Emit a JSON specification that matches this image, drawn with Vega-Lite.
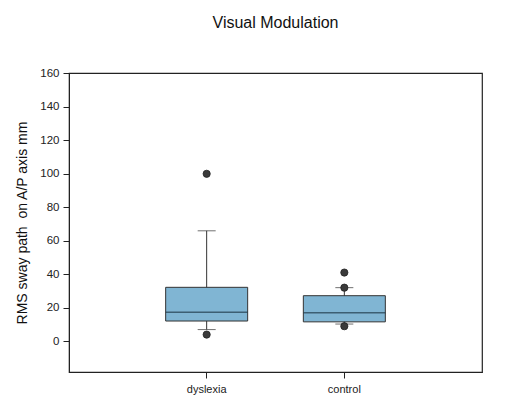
{
  "$schema": "https://vega.github.io/schema/vega-lite/v6.json",
  "width": 413,
  "height": 299,
  "autosize": {"type": "none"},
  "padding": {"left": 69, "top": 73, "right": 25, "bottom": 31},
  "background": "white",
  "title": {
    "text": "Visual Modulation",
    "font": "Liberation Sans",
    "fontSize": 16,
    "fontWeight": "normal",
    "color": "#111",
    "anchor": "middle",
    "baseline": "alphabetic",
    "offset": 23
  },
  "config": {
    "view": {"stroke": "#222", "strokeWidth": 1.2},
    "axis": {
      "labelFont": "Liberation Sans",
      "titleFont": "Liberation Sans",
      "labelColor": "#222",
      "titleColor": "#111",
      "domainColor": "#222",
      "tickColor": "#222",
      "labelFontSize": 11,
      "tickSize": 6,
      "grid": false,
      "labelOverlap": false
    },
    "axisY": {
      "title": "RMS sway path\u00a0 on A/P axis mm",
      "titleFontSize": 14,
      "titleFontWeight": "normal",
      "titlePadding": 10,
      "labelPadding": 4,
      "labelFontSize": 11.5,
      "tickCount": 9
    }
  },
  "datasets": {
    "stats": [
      {"group": "dyslexia", "lower": 7, "q1": 12.1, "median": 17.3, "q3": 32.2, "upper": 65.9},
      {"group": "control", "lower": 10.3, "q1": 11.6, "median": 17.1, "q3": 27.2, "upper": 32}
    ],
    "outliers": [
      {"group": "dyslexia", "value": 99.9},
      {"group": "dyslexia", "value": 4},
      {"group": "control", "value": 41},
      {"group": "control", "value": 32},
      {"group": "control", "value": 9}
    ]
  },
  "encoding": {
    "x": {
      "field": "group",
      "type": "nominal",
      "sort": ["dyslexia", "control"],
      "scale": {"paddingInner": 0, "paddingOuter": 0.5},
      "axis": {"title": null, "labelAngle": 0, "labelPadding": 5}
    }
  },
  "layer": [
    {
      "data": {"name": "stats"},
      "mark": {"type": "rule", "color": "#333", "strokeWidth": 1},
      "encoding": {
        "y": {
          "field": "lower",
          "type": "quantitative",
          "scale": {"domain": [-18.3, 160], "nice": false, "zero": false},
          "axis": {
            "values": [0, 20, 40, 60, 80, 100, 120, 140, 160],
            "title": "RMS sway path\u00a0 on A/P axis mm"
          }
        },
        "y2": {"field": "upper"}
      }
    },
    {
      "data": {"name": "stats"},
      "mark": {"type": "bar", "size": 82, "fill": "#80b5d3", "stroke": "#333", "strokeWidth": 1},
      "encoding": {
        "y": {"field": "q1", "type": "quantitative", "axis": {"values": [0, 20, 40, 60, 80, 100, 120, 140, 160], "title": "RMS sway path\u00a0 on A/P axis mm"}},
        "y2": {"field": "q3"}
      }
    },
    {
      "data": {"name": "stats"},
      "mark": {"type": "tick", "orient": "horizontal", "size": 82, "thickness": 1.5, "color": "#1f3a4a"},
      "encoding": {
        "y": {"field": "median", "type": "quantitative", "axis": {"values": [0, 20, 40, 60, 80, 100, 120, 140, 160], "title": "RMS sway path\u00a0 on A/P axis mm"}}
      }
    },
    {
      "data": {"name": "stats"},
      "mark": {"type": "tick", "orient": "horizontal", "size": 18, "thickness": 1, "color": "#333"},
      "encoding": {
        "y": {"field": "upper", "type": "quantitative", "axis": {"values": [0, 20, 40, 60, 80, 100, 120, 140, 160], "title": "RMS sway path\u00a0 on A/P axis mm"}}
      }
    },
    {
      "data": {"name": "stats"},
      "mark": {"type": "tick", "orient": "horizontal", "size": 18, "thickness": 1, "color": "#333"},
      "encoding": {
        "y": {"field": "lower", "type": "quantitative", "axis": {"values": [0, 20, 40, 60, 80, 100, 120, 140, 160], "title": "RMS sway path\u00a0 on A/P axis mm"}}
      }
    },
    {
      "data": {"name": "outliers"},
      "mark": {"type": "circle", "size": 52, "fill": "#3a3a3a", "stroke": "#222", "strokeWidth": 0.8, "opacity": 1},
      "encoding": {
        "y": {"field": "value", "type": "quantitative", "axis": {"values": [0, 20, 40, 60, 80, 100, 120, 140, 160], "title": "RMS sway path\u00a0 on A/P axis mm"}}
      }
    }
  ]
}
